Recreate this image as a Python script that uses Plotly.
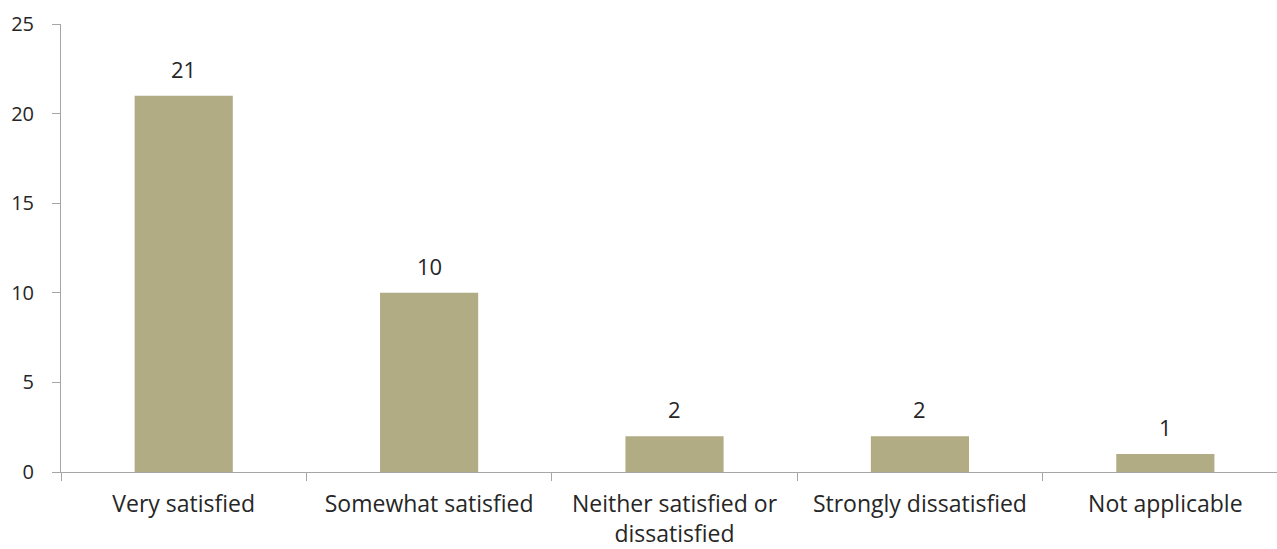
import plotly.graph_objects as go

categories = ["Very satisfied", "Somewhat satisfied", "Neither satisfied or<br>dissatisfied",
              "Strongly dissatisfied", "Not applicable"]
values = [21, 10, 2, 2, 1]
y_ticks = [0, 5, 10, 15, 20, 25]

axis_color = "#A6A6A6"
text_color = "#262626"
font_family = "Open Sans, Liberation Sans, sans-serif"

fig = go.Figure(go.Bar(
    x=categories, y=values,
    marker=dict(color="#B1AC84", line=dict(width=0)),
    width=0.4,
    cliponaxis=False,
))

for c, v in zip(categories, values):
    fig.add_annotation(
        x=c, y=v, text=str(v), showarrow=False,
        yanchor="bottom", yshift=10,
        font=dict(size=22, color=text_color, family=font_family),
    )

fig.update_layout(
    width=1277, height=549,
    margin=dict(l=61, r=0, t=24, b=77),
    paper_bgcolor="white", plot_bgcolor="white",
    showlegend=False,
    font=dict(family=font_family, color=text_color, size=20),
)
fig.update_xaxes(
    range=[-0.5, 4.455], automargin=False,
    showline=True, linecolor=axis_color, linewidth=1,
    ticks="outside", tickson="boundaries", ticklen=8, tickcolor=axis_color,
    showgrid=False, zeroline=False,
    tickfont=dict(size=23, color=text_color),
    ticklabelstandoff=11,
)
fig.update_yaxes(
    range=[0, 25], tickvals=y_ticks, automargin=False,
    showline=True, linecolor=axis_color, linewidth=1,
    ticks="outside", ticklen=8, tickcolor=axis_color,
    showgrid=False, zeroline=False,
    tickfont=dict(size=20, color=text_color),
    ticklabelstandoff=14,
)

fig.write_html(
    "out.html",
    config={"displayModeBar": False},
    post_script="document.body.style.margin='0';document.body.style.overflow='hidden';",
)
